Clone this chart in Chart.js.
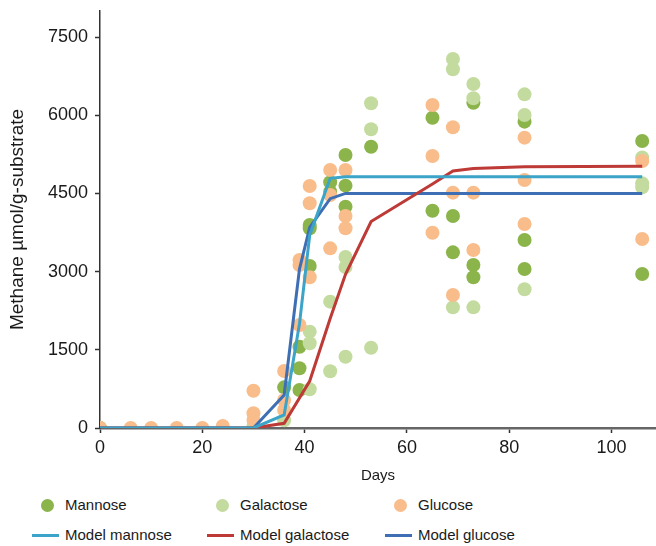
<!DOCTYPE html>
<html><head><meta charset="utf-8">
<script src="https://cdn.jsdelivr.net/npm/chart.js@4.4.0/dist/chart.umd.min.js"></script>
<style>
body{margin:0;background:#fff;font-family:"Liberation Sans",Arial,sans-serif;}
#wrap{position:relative;width:656px;height:546px;overflow:hidden}
#cw{position:absolute;left:0;top:0;width:656px;height:490px;}
.lg{position:absolute;font-size:15px;color:#1a1a1a;line-height:18px;white-space:nowrap}
.dot{position:absolute;width:13px;height:13px;border-radius:50%}
.ln{position:absolute;height:3px;width:27px}
</style></head><body>
<div id="wrap"><div id="cw"><canvas id="c"></canvas></div><div id="legend"></div></div>
<script>
// ---- data ----
const xTicks = [0, 20, 40, 60, 80, 100];
const yTicks = [0, 1500, 3000, 4500, 6000, 7500];

const mannoseDays   = [0, 30, 36, 39, 39, 39, 41, 41, 41, 45, 45, 48, 48, 48, 53, 65, 65, 69, 69, 73, 73, 73, 83, 83, 83, 106, 106];
const mannoseValues = [0, 0, 780, 1560, 1145, 729, 3895, 3831, 3108, 4714, 4534, 5237, 4649, 4246, 5397, 5953, 4169, 4067, 3370, 6241, 3127, 2891, 5877, 3607, 3050, 5506, 2954];

const galactoseDays   = [0, 30, 36, 41, 41, 41, 45, 45, 48, 48, 48, 53, 53, 53, 69, 69, 69, 73, 73, 73, 83, 83, 83, 106, 106, 106];
const galactoseValues = [0, 40, 150, 1848, 1625, 742, 2424, 1090, 3280, 3090, 1368, 6229, 5730, 1540, 7079, 6882, 2315, 6600, 6325, 2315, 6401, 6005, 2661, 5190, 4694, 4617];

const glucoseDays   = [0, 6, 10, 15, 20, 24, 30, 30, 30, 36, 36, 36, 39, 39, 39, 41, 41, 41, 45, 45, 45, 48, 48, 48, 65, 65, 65, 69, 69, 69, 73, 73, 83, 83, 83, 106, 106];
const glucoseValues = [0, 0, 0, 0, 0, 40, 716, 282, 153, 1093, 537, 345, 1976, 3223, 3127, 4643, 4311, 2891, 4950, 4470, 3447, 4950, 4067, 3831, 6197, 5218, 3747, 5769, 4515, 2552, 4515, 3415, 5570, 4758, 3914, 5122, 3626];

const modelMannoseDays   = [0, 30, 36, 39, 41, 45, 48, 106];
const modelMannoseValues = [0, 0, 250, 2000, 3700, 4790, 4820, 4820];

const modelGalactoseDays   = [0, 30, 36, 41, 45, 48, 53, 65, 69, 73, 83, 106];
const modelGalactoseValues = [0, 0, 90, 900, 2100, 2950, 3960, 4680, 4930, 4980, 5010, 5020];

const modelGlucoseDays   = [0, 30, 36, 39, 41, 45, 48, 106];
const modelGlucoseValues = [0, 0, 633, 3050, 3850, 4400, 4500, 4500];

const seriesNames = ['Mannose', 'Galactose', 'Glucose', 'Model mannose', 'Model galactose', 'Model glucose'];
const seriesColors = ['#8bb44b', '#c3db9e', '#f9bd8b', '#3ba4c8', '#be3a36', '#3e6fb5'];

function pts(xs, ys) { return xs.map((x, i) => ({x: x, y: ys[i]})); }

const FONT = '"Liberation Sans", Arial, sans-serif';

const datasets = [
  {label: seriesNames[3], data: pts(modelMannoseDays, modelMannoseValues), showLine: true, borderColor: seriesColors[3], borderWidth: 3, pointRadius: 0, fill: false, order: 1},
  {label: seriesNames[4], data: pts(modelGalactoseDays, modelGalactoseValues), showLine: true, borderColor: seriesColors[4], borderWidth: 3, pointRadius: 0, fill: false, order: 1},
  {label: seriesNames[5], data: pts(modelGlucoseDays, modelGlucoseValues), showLine: true, borderColor: seriesColors[5], borderWidth: 3, pointRadius: 0, fill: false, order: 1},
  {label: seriesNames[2], data: pts(glucoseDays, glucoseValues), backgroundColor: seriesColors[2], borderWidth: 0, pointRadius: 7, order: 2},
  {label: seriesNames[1], data: pts(galactoseDays, galactoseValues), backgroundColor: seriesColors[1], borderWidth: 0, pointRadius: 7, order: 3},
  {label: seriesNames[0], data: pts(mannoseDays, mannoseValues), backgroundColor: seriesColors[0], borderWidth: 0, pointRadius: 7, order: 4}
];

new Chart(document.getElementById('c'), {
  type: 'scatter',
  data: {datasets: datasets},
  options: {
    responsive: true, maintainAspectRatio: false, animation: false,
    layout: {autoPadding: false, padding: {top: 11, right: 0, bottom: 0, left: 0}},
    plugins: {legend: {display: false}, tooltip: {enabled: false}},
    elements: {line: {tension: 0}},
    scales: {
      x: {
        type: 'linear', min: 0, max: 108.7,
        afterBuildTicks: s => { s.ticks = xTicks.map(v => ({value: v})); },
        afterFit: s => { s.height = 62; s.paddingLeft = 0; s.paddingRight = 0; },
        ticks: {font: {family: FONT, size: 18}, color: '#1a1a1a', padding: 4, maxRotation: 0, callback: v => String(v)},
        grid: {display: true, drawOnChartArea: false, drawTicks: true, tickLength: 5, tickColor: '#333', tickWidth: 1.5},
        border: {display: true, color: '#666', width: 2.5},
        title: {display: true, text: 'Days', font: {family: FONT, size: 15}, color: '#1a1a1a', padding: {top: 0, bottom: 5}}
      },
      y: {
        type: 'linear', min: 0, max: 8000,
        afterBuildTicks: s => { s.ticks = yTicks.map(v => ({value: v})); },
        afterFit: s => { s.width = 100; s.paddingTop = 0; s.paddingBottom = 0; },
        ticks: {font: {family: FONT, size: 18}, color: '#1a1a1a', padding: 7, callback: v => String(v)},
        grid: {display: true, drawOnChartArea: false, drawTicks: true, tickLength: 5, tickColor: '#333', tickWidth: 1.5},
        border: {display: true, color: '#333', width: 1.5},
        title: {display: true, text: 'Methane µmol/g-substrate', font: {family: FONT, size: 19}, color: '#1a1a1a', padding: {top: 6, bottom: 0}}
      }
    }
  }
});

// ---- legend (HTML text) ----
const lg = document.getElementById('legend');
const colX = [47, 222, 400];
const textX = [65, 240, 418];
const rowY = [505, 535];
seriesNames.forEach((name, i) => {
  const col = i % 3, row = Math.floor(i / 3);
  const m = document.createElement('div');
  if (row === 0) {
    m.className = 'dot';
    m.style.left = (colX[col] - 6.5) + 'px';
    m.style.top = (rowY[row] - 6.5) + 'px';
  } else {
    m.className = 'ln';
    m.style.left = (colX[col] - 15) + 'px';
    m.style.top = (rowY[row] - 1.5) + 'px';
  }
  m.style.background = seriesColors[i];
  lg.appendChild(m);
  const t = document.createElement('div');
  t.className = 'lg';
  t.textContent = name;
  t.style.left = textX[col] + 'px';
  t.style.top = (rowY[row] - 9) + 'px';
  lg.appendChild(t);
});
</script>
</body></html>
